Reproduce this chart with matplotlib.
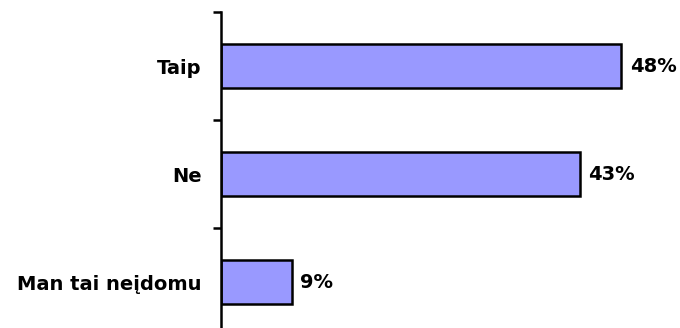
import matplotlib
matplotlib.use("Agg")
import matplotlib.pyplot as plt

categories = ["Taip", "Ne", "Man tai neįdomu"]
values = [48, 43, 8.5]
value_labels = ["48%", "43%", "9%"]

W, H, DPI = 680, 328, 100
fig = plt.figure(figsize=(W / DPI, H / DPI), dpi=DPI)
left = 221 / W
top = 1 - 12 / H
bottom = 1 - 336 / H
ax = fig.add_axes([left, bottom, 1 - left, top - bottom])

pos = list(range(len(categories)))
ax.barh(pos, values, height=0.4, color="#9999FF", edgecolor="black", linewidth=1.8)

ax.set_ylim(len(categories) - 0.5, -0.5)
ax.set_xlim(0, (W - 221) / 8.34)

ax.set_yticks([p - 0.5 for p in pos] + [len(categories) - 0.5])
ax.set_yticklabels([])
ax.set_yticks(pos, minor=True)
ax.set_yticklabels(categories, minor=True, fontsize=14, fontweight="bold",
                   family="DejaVu Sans")
ax.tick_params(axis="y", which="major", length=6, width=1.8, direction="out")
ax.tick_params(axis="y", which="minor", length=0, pad=14)

ax.set_xticks([])
for s in ["top", "right", "bottom"]:
    ax.spines[s].set_visible(False)
ax.spines["left"].set_linewidth(1.8)

for p, v, lab in zip(pos, values, value_labels):
    ax.annotate(lab, xy=(v, p), xytext=(6, 0), textcoords="offset points",
                va="center", ha="left", fontsize=14, fontweight="bold",
                family="DejaVu Sans")

fig.savefig("out.png", dpi=DPI)
